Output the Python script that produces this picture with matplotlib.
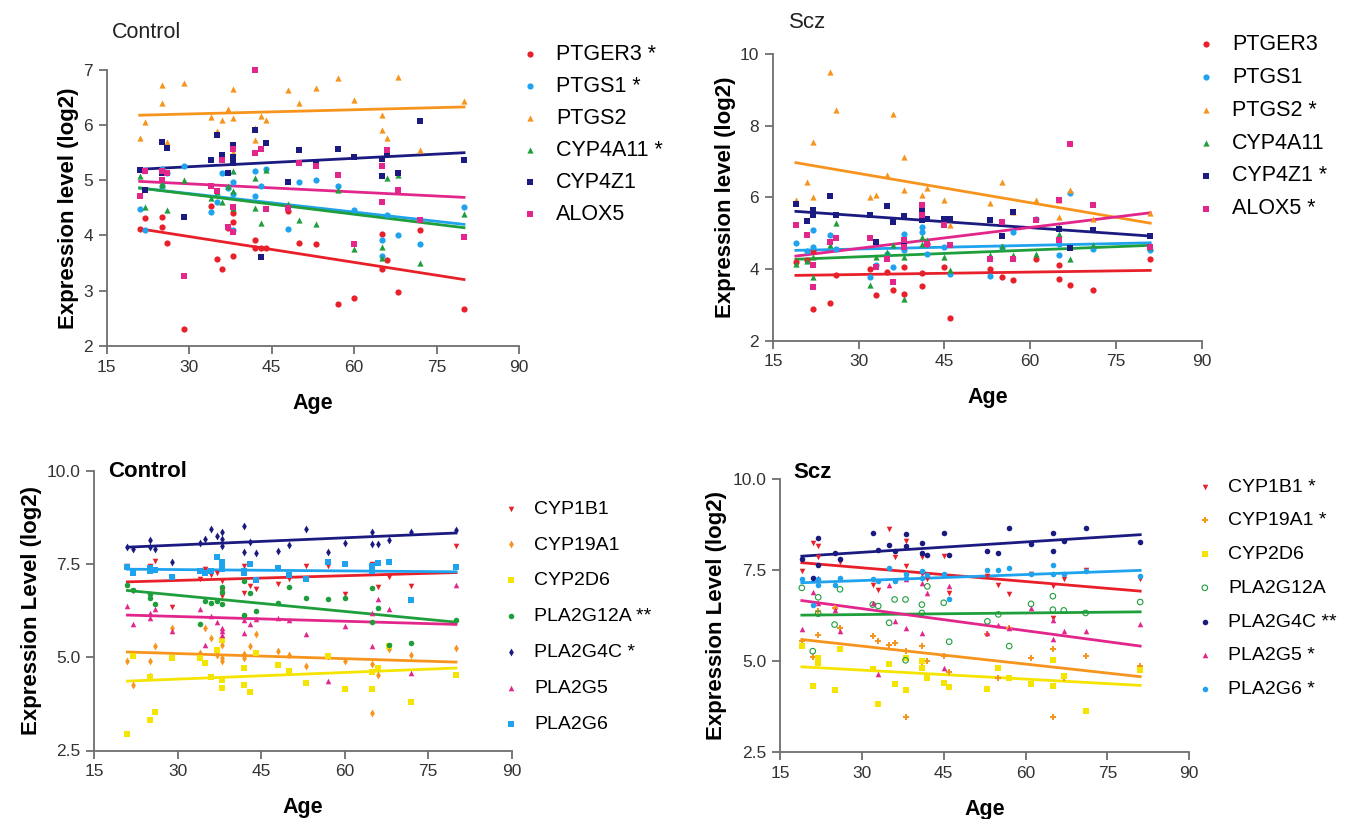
import numpy as np
import matplotlib
matplotlib.use("Agg")
import matplotlib.pyplot as plt

plt.rcParams['font.family'] = ['Liberation Sans', 'DejaVu Sans']

# ---------------- data ----------------
ages_ctrl = [21, 22, 25, 25, 26, 29, 34, 35, 36, 37, 38, 38, 38, 42, 42, 43, 44, 48, 50, 53, 57, 60, 65, 65, 66, 68, 72, 80]
ages_scz = [19, 21, 22, 22, 25, 26, 32, 33, 35, 36, 38, 38, 41, 41, 42, 45, 46, 53, 55, 57, 61, 65, 65, 67, 71, 81]

# top panels: eicosanoid genes
ptger3_c = [4.11, 4.31, 4.34, 4.16, 3.87, 2.30, 4.54, 3.57, 3.40, 4.13, 3.62, 4.25, 4.40, 3.92, 3.77, 3.77, 3.77, 4.45, 3.87, 3.84, 2.76, 2.86, 4.02, 3.39, 3.56, 2.97, 4.09, 2.66]
ptgs1_c = [4.48, 4.09, 4.90, 5.20, 5.13, 5.25, 4.43, 4.61, 5.13, 4.86, 4.96, 4.10, 4.75, 5.16, 4.71, 4.89, 5.20, 4.11, 4.96, 5.01, 4.90, 4.46, 3.91, 3.62, 4.37, 4.01, 3.85, 4.51]
ptgs2_c = [5.77, 6.05, 6.72, 6.40, 5.70, 6.76, 6.15, 5.89, 6.10, 6.29, 6.65, 6.13, 5.52, 5.73, 5.95, 6.16, 6.10, 6.64, 6.40, 6.67, 6.85, 6.46, 6.19, 5.92, 5.77, 6.87, 5.55, 6.44]
cyp4a11_c = [5.07, 4.52, 4.92, 4.95, 4.46, 5.01, 4.68, 4.78, 4.61, 4.89, 5.16, 4.80, 4.49, 5.04, 4.50, 4.23, 5.19, 4.57, 4.28, 4.20, 4.83, 3.75, 3.79, 3.59, 5.04, 5.10, 3.50, 4.38]
cyp4z1_c = [5.18, 4.83, 5.69, 5.13, 5.58, 4.33, 5.36, 5.83, 5.46, 5.14, 5.64, 5.43, 5.31, 5.92, 5.50, 3.60, 5.67, 4.96, 5.55, 5.32, 5.57, 5.43, 5.07, 5.38, 5.50, 5.14, 6.07, 5.37]
alox5_c = [4.71, 5.16, 5.16, 5.00, 5.13, 3.27, 4.89, 4.80, 5.37, 4.15, 4.52, 4.07, 5.57, 7.00, 5.50, 5.57, 4.48, 4.50, 5.31, 5.25, 5.10, 3.84, 4.61, 5.25, 5.55, 4.83, 4.28, 3.97]

ptger3_s = [4.20, 4.25, 2.89, 4.50, 3.04, 3.82, 4.01, 3.26, 3.91, 3.40, 4.05, 3.31, 3.51, 3.90, 4.71, 4.05, 2.63, 4.01, 3.77, 3.68, 4.29, 4.10, 3.73, 3.54, 3.42, 4.29]
ptgs1_s = [4.72, 4.50, 5.10, 4.60, 4.94, 4.57, 3.77, 4.10, 4.43, 4.05, 4.99, 4.52, 5.17, 5.03, 4.43, 4.61, 3.87, 3.79, 4.61, 5.03, 5.41, 4.38, 4.71, 6.13, 4.57, 4.54]
ptgs2_s = [5.94, 6.43, 7.55, 6.01, 9.51, 8.44, 6.01, 6.06, 6.62, 8.33, 7.13, 6.20, 6.06, 5.60, 6.25, 5.94, 5.22, 5.83, 6.43, 5.59, 5.92, 5.92, 5.45, 6.22, 5.41, 5.55]
cyp4a11_s = [4.15, 4.22, 3.77, 4.33, 4.66, 5.28, 3.54, 4.33, 4.47, 4.66, 3.17, 4.33, 4.89, 4.70, 4.80, 4.33, 3.96, 4.38, 4.63, 4.38, 4.43, 5.17, 4.99, 4.29, 4.66, 4.61]
cyp4z1_s = [5.81, 5.33, 5.66, 5.50, 6.03, 5.52, 5.50, 4.75, 5.75, 5.31, 5.48, 4.71, 5.66, 5.36, 5.41, 5.41, 5.41, 5.36, 4.91, 5.59, 5.36, 5.92, 5.13, 4.59, 5.10, 4.91]
alox5_s = [5.22, 4.94, 3.49, 4.10, 4.75, 4.87, 4.87, 4.05, 4.29, 3.63, 4.80, 4.60, 5.78, 5.50, 4.71, 5.22, 4.66, 4.29, 5.31, 4.29, 5.36, 5.92, 4.80, 7.49, 5.78, 4.61]

# bottom panels: CYP / PLA2 genes
cyp1b1_c = [7.45, 6.78, 7.45, 7.30, 7.59, 6.34, 7.10, 7.36, 7.20, 7.27, 7.05, 6.78, 6.64, 7.45, 6.73, 6.90, 6.82, 6.96, 7.09, 7.45, 7.45, 6.69, 7.50, 7.42, 6.87, 7.14, 6.91, 7.97]
cyp19a1_c = [4.91, 4.26, 4.91, 4.51, 5.31, 5.79, 5.11, 5.79, 5.52, 5.07, 5.34, 4.98, 4.90, 4.98, 5.10, 5.29, 5.61, 5.16, 5.07, 4.77, 5.02, 4.91, 4.82, 3.51, 4.53, 5.22, 5.07, 5.25]
cyp2d6_c = [2.95, 5.02, 3.33, 4.48, 3.54, 4.98, 4.98, 4.84, 4.48, 5.20, 5.47, 4.39, 4.17, 4.71, 4.26, 4.08, 5.11, 4.80, 4.62, 4.30, 5.02, 4.14, 4.14, 4.60, 4.70, 5.31, 3.81, 4.53]
pla2g12a_c = [6.93, 6.80, 6.69, 6.60, 6.42, 7.14, 5.88, 6.50, 6.46, 6.51, 6.87, 6.44, 6.75, 7.05, 6.13, 6.73, 6.25, 6.46, 6.89, 6.60, 6.55, 6.60, 6.85, 5.95, 6.33, 5.34, 5.38, 5.99]
pla2g4c_c = [7.95, 7.90, 8.13, 7.95, 7.90, 7.54, 8.05, 8.17, 8.44, 8.26, 8.35, 8.17, 7.99, 8.51, 7.81, 8.08, 7.79, 7.86, 8.01, 8.44, 7.83, 8.06, 8.37, 8.04, 8.04, 8.15, 8.35, 8.40]
pla2g5_c = [6.37, 5.88, 6.19, 6.05, 6.30, 5.70, 6.30, 5.34, 6.10, 5.95, 5.79, 5.70, 5.60, 5.65, 6.00, 5.90, 6.03, 6.05, 5.99, 5.61, 4.37, 5.85, 5.29, 6.19, 6.55, 6.28, 4.59, 6.93]
pla2g6_c = [7.41, 7.27, 7.38, 7.32, 7.35, 7.16, 7.30, 7.27, 7.32, 7.68, 7.54, 7.45, 7.36, 7.32, 7.25, 7.50, 7.07, 7.38, 7.20, 7.09, 7.54, 7.50, 7.45, 7.30, 7.52, 7.56, 6.53, 7.41]

cyp1b1_s = [7.48, 8.24, 8.15, 7.85, 6.40, 7.72, 7.10, 6.96, 8.64, 7.85, 8.31, 7.60, 7.85, 7.40, 7.24, 7.88, 6.87, 7.33, 7.10, 6.83, 7.38, 7.05, 6.19, 7.24, 7.51, 7.24]
cyp19a1_s = [5.55, 5.10, 5.71, 6.37, 6.46, 5.91, 5.68, 5.56, 5.45, 5.50, 3.46, 5.27, 4.95, 5.41, 5.00, 5.15, 4.70, 5.73, 4.54, 5.91, 5.07, 3.46, 5.32, 4.54, 5.13, 4.86]
cyp2d6_s = [5.41, 4.31, 5.09, 4.95, 4.19, 5.32, 4.77, 3.81, 4.91, 4.36, 4.19, 5.09, 5.00, 4.80, 4.54, 4.40, 4.28, 4.22, 4.80, 4.54, 4.36, 5.04, 4.31, 4.60, 3.62, 4.74]
pla2g12a_s = [7.01, 5.27, 6.75, 6.30, 6.00, 6.97, 6.55, 6.51, 6.05, 6.69, 6.69, 5.02, 6.55, 6.32, 7.05, 6.60, 5.53, 6.09, 6.28, 5.41, 6.57, 6.78, 6.41, 6.39, 6.32, 6.62]
pla2g4c_s = [7.79, 7.28, 8.38, 7.65, 7.97, 7.79, 8.52, 8.06, 8.18, 8.03, 8.49, 8.15, 8.24, 7.97, 7.90, 8.52, 7.92, 8.02, 7.97, 8.66, 8.22, 8.52, 8.02, 8.29, 8.66, 8.26]
pla2g5_s = [5.87, 6.90, 7.28, 6.60, 6.40, 5.82, 6.60, 4.63, 7.10, 6.09, 5.91, 7.24, 7.15, 5.77, 6.87, 4.80, 7.05, 5.77, 6.00, 5.91, 6.46, 6.14, 5.60, 5.82, 5.82, 6.02]
pla2g6_s = [7.24, 6.55, 7.10, 7.24, 7.10, 7.28, 7.24, 7.19, 7.56, 7.19, 7.38, 7.28, 7.47, 7.28, 7.35, 7.38, 6.69, 7.51, 7.51, 7.56, 7.40, 7.65, 7.38, 7.40, 7.47, 7.33]

# regression lines (value at first / last age)
fit_x_ctrl = [21, 80]
fit_x_scz = [19, 81]
fit_top_ctrl = [[4.12, 3.20], [4.86, 4.20], [6.18, 6.33], [4.86, 4.14], [5.20, 5.50], [4.98, 4.69]]
fit_top_scz = [[3.82, 3.96], [4.52, 4.73], [6.97, 5.28], [4.27, 4.66], [5.61, 4.92], [4.36, 5.57]]
fit_bot_ctrl = [[7.02, 7.27], [5.14, 4.87], [4.36, 4.71], [6.79, 5.94], [7.95, 8.33], [6.13, 5.88], [7.36, 7.29]]
fit_bot_scz = [[7.70, 6.92], [5.59, 4.57], [4.84, 4.33], [6.26, 6.35], [7.88, 8.47], [6.66, 5.41], [7.15, 7.49]]

labels_top_ctrl = ["PTGER3 *", "PTGS1 *", "PTGS2", "CYP4A11 *", "CYP4Z1", "ALOX5"]
labels_top_scz = ["PTGER3", "PTGS1", "PTGS2 *", "CYP4A11", "CYP4Z1 *", "ALOX5 *"]
labels_bot_ctrl = ["CYP1B1", "CYP19A1", "CYP2D6", "PLA2G12A **", "PLA2G4C *", "PLA2G5", "PLA2G6"]
labels_bot_scz = ["CYP1B1 *", "CYP19A1 *", "CYP2D6", "PLA2G12A", "PLA2G4C **", "PLA2G5 *", "PLA2G6 *"]

RED = '#e8202a'
BLUE = '#1fa3ee'
ORANGE = '#f7941d'
GREEN = '#1f9e3c'
NAVY = '#1a1a80'
MAGENTA = '#e2268c'
YELLOW = '#f5e400'

colors_top = [RED, BLUE, ORANGE, GREEN, NAVY, MAGENTA]
markers_top = ['o', 'o', '^', '^', 's', 's']
colors_bot = [RED, ORANGE, YELLOW, GREEN, NAVY, MAGENTA, BLUE]
markers_bot_ctrl = ['v', 'd', 's', 'o', 'd', '^', 's']
markers_bot_scz = ['v', 'P', 's', 'o_open', 'o', '^', 'o']

W, H = 1358, 819
fig = plt.figure(figsize=(W / 100, H / 100), dpi=100)
fig.patch.set_facecolor('white')


def px_axes(l, t, r, b):
    return fig.add_axes([l / W, 1 - b / H, (r - l) / W, (b - t) / H])


def style(ax, ylim, yticks, yfmt, ylabel, ypad):
    ax.set_xlim(15, 90)
    ax.set_ylim(*ylim)
    ax.set_xticks([15, 30, 45, 60, 75, 90])
    ax.set_yticks(yticks)
    ax.set_yticklabels([yfmt % v for v in yticks])
    for s in ['top', 'right']:
        ax.spines[s].set_visible(False)
    for s in ['left', 'bottom']:
        ax.spines[s].set_color('#6e6e6e')
        ax.spines[s].set_linewidth(1.3)
    ax.tick_params(direction='out', length=6, width=1.3, color='#6e6e6e',
                   labelsize=12.5, labelcolor='#333333', pad=4)
    ax.set_xlabel('Age', fontsize=15.5, fontweight='bold', labelpad=13)
    ax.set_ylabel(ylabel, fontsize=16, fontweight='bold', labelpad=ypad)
    ax.set_facecolor('none')


def draw(ax, ages, series, fits, fit_x, colors, markers, labels, msize):
    handles = []
    for vals, fit, c, m, lab in zip(series, fits, colors, markers, labels):
        face = 'none' if m == 'o_open' else c
        mk = 'o' if m == 'o_open' else m
        h = ax.scatter(ages, vals, s=msize, marker=mk, facecolors=face,
                       edgecolors=c, linewidths=0.8 if face == 'none' else 0,
                       clip_on=False, zorder=3, label=lab)
        ax.plot(fit_x, fit, color=c, lw=2.0, zorder=2)
        handles.append(h)
    return handles


def legend(ax, handles, labels, x, y, fs, spacing):
    ax.legend(handles, labels, loc='upper left', bbox_to_anchor=(x / W, 1 - y / H),
              bbox_transform=fig.transFigure, frameon=False, fontsize=fs,
              handlelength=0.6, handletextpad=0.9, labelspacing=spacing,
              borderpad=0, borderaxespad=0, scatterpoints=1, markerscale=1.0)


# top left: control
ax1 = px_axes(106.7, 70, 519, 345.7)
style(ax1, (2, 7), [2, 3, 4, 5, 6, 7], '%d', 'Expression level (log2)', 3)
h = draw(ax1, ages_ctrl, [ptger3_c, ptgs1_c, ptgs2_c, cyp4a11_c, cyp4z1_c, alox5_c],
         fit_top_ctrl, fit_x_ctrl, colors_top, markers_top, labels_top_ctrl, 20)
legend(ax1, h, labels_top_ctrl, 524, 44, 15.5, 0.51)
fig.text(112 / W, 1 - 33 / H, 'Control', fontsize=15.5, va='center', ha='left', color='#222222')

# top right: scz
ax2 = px_axes(773, 54.3, 1201.7, 340.5)
style(ax2, (2, 10), [2, 4, 6, 8, 10], '%d', 'Expression level (log2)', 3)
h = draw(ax2, ages_scz, [ptger3_s, ptgs1_s, ptgs2_s, cyp4a11_s, cyp4z1_s, alox5_s],
         fit_top_scz, fit_x_scz, colors_top, markers_top, labels_top_scz, 20)
legend(ax2, h, labels_top_scz, 1200, 34, 15.5, 0.55)
fig.text(789 / W, 1 - 23 / H, 'Scz', fontsize=16, va='center', ha='left', color='#222222')

# bottom left: control
ax3 = px_axes(94, 470.7, 511.7, 750.5)
style(ax3, (2.5, 10), [2.5, 5.0, 7.5, 10.0], '%.1f', 'Expression Level (log2)', 3)
h = draw(ax3, ages_ctrl, [cyp1b1_c, cyp19a1_c, cyp2d6_c, pla2g12a_c, pla2g4c_c, pla2g5_c, pla2g6_c],
         fit_bot_ctrl, fit_x_ctrl, colors_bot, markers_bot_ctrl, labels_bot_ctrl, 16)
legend(ax3, h, labels_bot_ctrl, 505, 500, 14, 0.94)
fig.text(108 / W, 1 - 472 / H, 'Control', fontsize=16, fontweight='bold', va='center', ha='left')

# bottom right: scz
ax4 = px_axes(780, 479, 1189.3, 752)
style(ax4, (2.5, 10), [2.5, 5.0, 7.5, 10.0], '%.1f', 'Expression Level (log2)', 4)
h = draw(ax4, ages_scz, [cyp1b1_s, cyp19a1_s, cyp2d6_s, pla2g12a_s, pla2g4c_s, pla2g5_s, pla2g6_s],
         fit_bot_scz, fit_x_scz, colors_bot, markers_bot_scz, labels_bot_scz, 16)
legend(ax4, h, labels_bot_scz, 1199, 478, 14, 0.83)
fig.text(793 / W, 1 - 473 / H, 'Scz', fontsize=16, fontweight='bold', va='center', ha='left')

fig.savefig('out.png', dpi=100, facecolor='white')
